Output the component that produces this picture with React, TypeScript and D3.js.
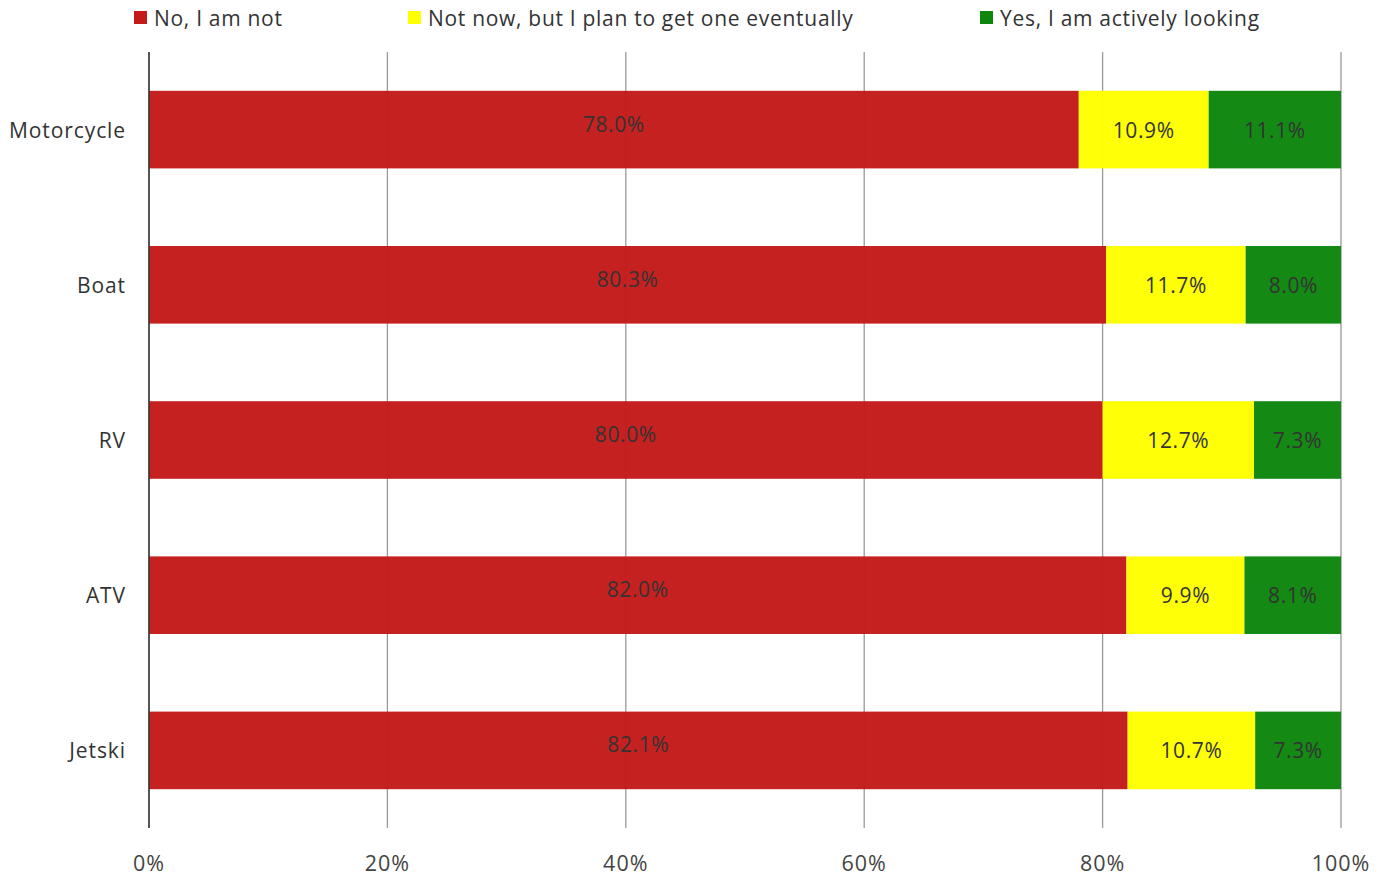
import React from "react";
import * as d3 from "d3";

const categories = ["Motorcycle", "Boat", "RV", "ATV", "Jetski"];
const seriesNames = ["No, I am not", "Not now, but I plan to get one eventually", "Yes, I am actively looking"];
const noValues = [78.0, 80.3, 80.0, 82.0, 82.1];
const planValues = [10.9, 11.7, 12.7, 9.9, 10.7];
const yesValues = [11.1, 8.0, 7.3, 8.1, 7.3];
const colors = ["#c41a1a", "#ffff00", "#0c860c"];
const xTicks = [0, 20, 40, 60, 80, 100];
const legendX = [134, 408, 980];

const W = 1385, H = 878;
const left = 149, right = 1341, top = 52, bottom = 828;
const font = "'Open Sans', sans-serif";

export default function App() {
  const x = d3.scaleLinear().domain([0, 100]).range([left, right]);
  const y = d3.scaleBand().domain(categories).range([top, bottom]).paddingInner(0.5).paddingOuter(0.25);
  const series = [noValues, planValues, yesValues];
  const rows = categories.map((c, i) => {
    let acc = 0;
    return series.map((s, k) => {
      const x0 = acc;
      acc += s[i];
      return { c, k, x0, x1: Math.min(acc, 100), v: s[i] };
    });
  });
  const bh = y.bandwidth();
  return (
    <svg width={W} height={H} style={{ position: "absolute", left: 0, top: 0, background: "#fff" }} fontFamily={font}>
      {xTicks.map((t) => (
        <line key={t} x1={x(t)} x2={x(t)} y1={top} y2={bottom} stroke="#999" strokeWidth={1.3} />
      ))}
      {rows.map((r) =>
        r.map((seg) => (
          <rect key={seg.c + seg.k} x={x(seg.x0)} y={y(seg.c)} width={x(seg.x1) - x(seg.x0)} height={bh} fill={colors[seg.k]} opacity={0.97} />
        ))
      )}
      <line x1={left} x2={left} y1={top} y2={bottom} stroke="#333" strokeWidth={1.5} />
      {rows.map((r) =>
        r.map((seg) => (
          <text key={"l" + seg.c + seg.k} x={(x(seg.x0) + x(seg.x1)) / 2} y={y(seg.c)! + bh / 2 + (seg.k === 0 ? -6 : 0)} textAnchor="middle" dominantBaseline="central" fontSize={21} letterSpacing={0.6} fill="#333">
            {seg.v.toFixed(1)}%
          </text>
        ))
      )}
      {categories.map((c) => (
        <text key={c} x={126} y={y(c)! + bh / 2} textAnchor="end" dominantBaseline="central" fontSize={21} letterSpacing={0.9} fill="#333">{c}</text>
      ))}
      {xTicks.map((t) => (
        <text key={"t" + t} x={x(t)} y={862} textAnchor="middle" dominantBaseline="central" fontSize={21.5} letterSpacing={1} fill="#444">{t}%</text>
      ))}
      {seriesNames.map((s, k) => (
        <g key={s}>
          <rect x={legendX[k]} y={11} width={13} height={13} fill={colors[k]} />
          <text x={legendX[k] + 20} y={18} dominantBaseline="central" fontSize={21} letterSpacing={0.7} fill="#333">{s}</text>
        </g>
      ))}
    </svg>
  );
}
